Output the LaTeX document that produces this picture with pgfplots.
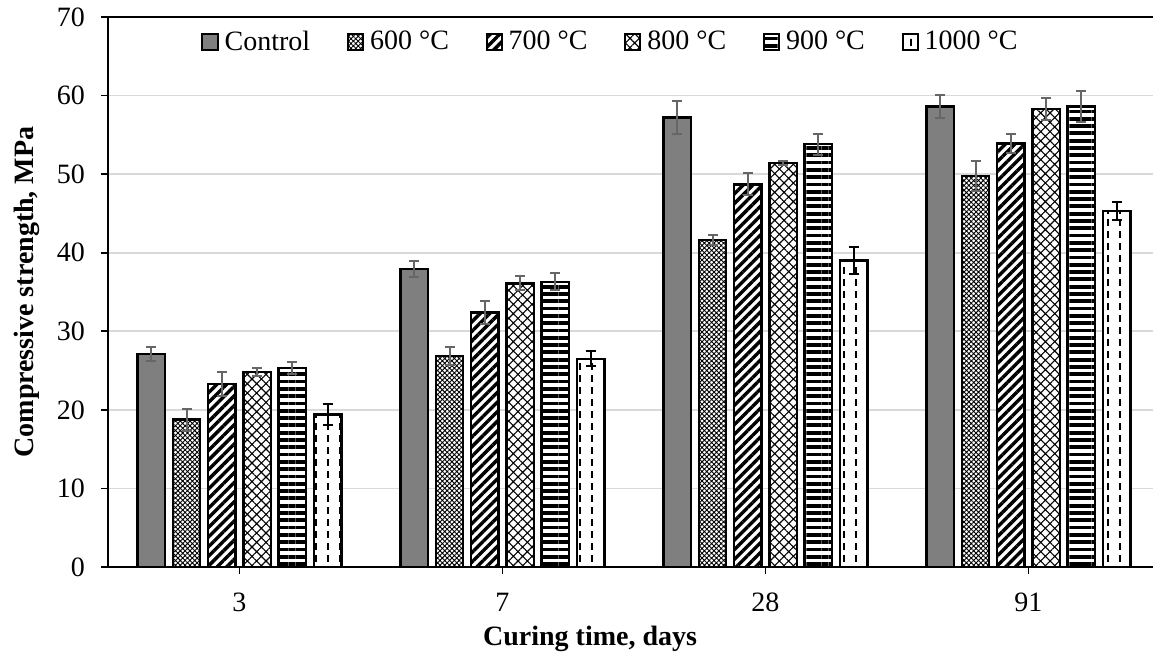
\documentclass[border=0pt]{standalone}
\usepackage{fontspec}
\setmainfont{Liberation Serif}
\usepackage{pgfplots}
\pgfplotsset{compat=1.18}
\usetikzlibrary{patterns.meta}

\tikzdeclarepattern{
  name=vdash,
  type=uncolored,
  bounding box={(0pt,0pt) and (6.2pt,6pt)},
  tile size={(6.2pt,6pt)},
  code={
    \pgfsetlinewidth{0.9pt}
    \pgfpathmoveto{\pgfqpoint{3.1pt}{0.6pt}}
    \pgfpathlineto{\pgfqpoint{3.1pt}{4.3pt}}
    \pgfusepath{stroke}
  }
}

\definecolor{ctrlgray}{HTML}{7F7F7F}
\definecolor{gridgray}{HTML}{D9D9D9}
\definecolor{errgray}{HTML}{666666}

\begin{document}
\begin{tikzpicture}
\useasboundingbox (-54pt,-46pt) rectangle (522.5pt,283.5pt);
\begin{axis}[
  at={(0pt,0pt)}, anchor=south west,
  width=524pt, height=275pt, scale only axis,
  xmin=-0.5, xmax=3.485, ymin=0, ymax=70,
  ybar=3.9pt, bar width=13.75pt,
  xtick={0,1,2,3}, xticklabels={3,7,28,91},
  ytick={0,10,...,70},
  tick align=outside, xtick pos=bottom, ytick pos=left,
  major tick length=3.5pt,
  tick style={black, line width=0.8pt},
  axis line style={black, line width=1pt},
  ymajorgrids, grid style={gridgray, line width=0.8pt},
  /pgf/number format/assume math mode=true,
  tick label style={font=\fontsize{14}{16}\selectfont},
  xticklabel style={yshift=-6pt},
  yticklabel style={xshift=-4.5pt},
  xlabel={\textbf{Curing time, days}},
  ylabel={\textbf{Compressive strength, MPa}},
  label style={font=\fontsize{14}{16}\selectfont},
  xlabel style={at={(axis description cs:0.46,-0.13)}, anchor=center},
  ylabel style={at={(axis description cs:-0.0772,0.5)}, anchor=center, rotate=0},
  legend columns=-1,
  legend style={draw=none, fill=none, font=\fontsize{14}{16}\selectfont,
    at={(axis description cs:0.4805,0.9545)}, anchor=center,
    /tikz/every even column/.append style={column sep=16.3pt},
    /tikz/every odd column/.append style={column sep=1pt}},
  legend image code/.code={\draw[#1, line width=1pt] (0pt,-3.8pt) rectangle (7.6pt,3.8pt);},
  every axis plot/.append style={draw=black, line width=1.2pt},
  error bars/y dir=both, error bars/y explicit,
]
\addplot[fill=ctrlgray,
  error bars/error bar style={errgray, line width=1pt},
  error bars/error mark options={rotate=90, mark size=2.5pt, line width=1pt, errgray}]
  coordinates {(0,27.1) +- (0,0.9) (1,37.9) +- (0,1.0) (2,57.2) +- (0,2.1) (3,58.6) +- (0,1.5)};
\addplot[fill=white, postaction={pattern={Hatch[angle=45, distance=1.7pt, line width=0.45pt]}},
  error bars/error bar style={errgray, line width=1pt},
  error bars/error mark options={rotate=90, mark size=2.5pt, line width=1pt, errgray}]
  coordinates {(0,18.75) +- (0,1.4) (1,26.85) +- (0,1.1) (2,41.6) +- (0,0.65) (3,49.8) +- (0,1.9)};
\addplot[fill=white, postaction={pattern={Lines[angle=45, distance=3.4pt, line width=1.7pt]}},
  error bars/error bar style={errgray, line width=1pt},
  error bars/error mark options={rotate=90, mark size=2.5pt, line width=1pt, errgray}]
  coordinates {(0,23.3) +- (0,1.5) (1,32.4) +- (0,1.5) (2,48.7) +- (0,1.4) (3,53.9) +- (0,1.2)};
\addplot[fill=white, postaction={pattern={Hatch[angle=45, distance=3.3pt, line width=0.55pt]}},
  error bars/error bar style={errgray, line width=1pt},
  error bars/error mark options={rotate=90, mark size=2.5pt, line width=1pt, errgray}]
  coordinates {(0,24.8) +- (0,0.5) (1,36.1) +- (0,0.9) (2,51.4) +- (0,0.25) (3,58.3) +- (0,1.4)};
\addplot[fill=white, postaction={pattern={Lines[angle=0, distance=3.65pt, line width=1.9pt]}},
  error bars/error bar style={errgray, line width=1pt},
  error bars/error mark options={rotate=90, mark size=2.5pt, line width=1pt, errgray}]
  coordinates {(0,25.3) +- (0,0.8) (1,36.3) +- (0,1.1) (2,53.8) +- (0,1.3) (3,58.6) +- (0,2.0)};
\addplot[fill=white, postaction={pattern=vdash},
  error bars/error bar style={black, line width=1pt},
  error bars/error mark options={rotate=90, mark size=2.5pt, line width=1pt, black}]
  coordinates {(0,19.4) +- (0,1.3) (1,26.5) +- (0,0.95) (2,39.0) +- (0,1.7) (3,45.3) +- (0,1.1)};
\legend{Control, 600 °C, 700 °C, 800 °C, 900 °C, 1000 °C}
\end{axis}
\end{tikzpicture}
\end{document}
